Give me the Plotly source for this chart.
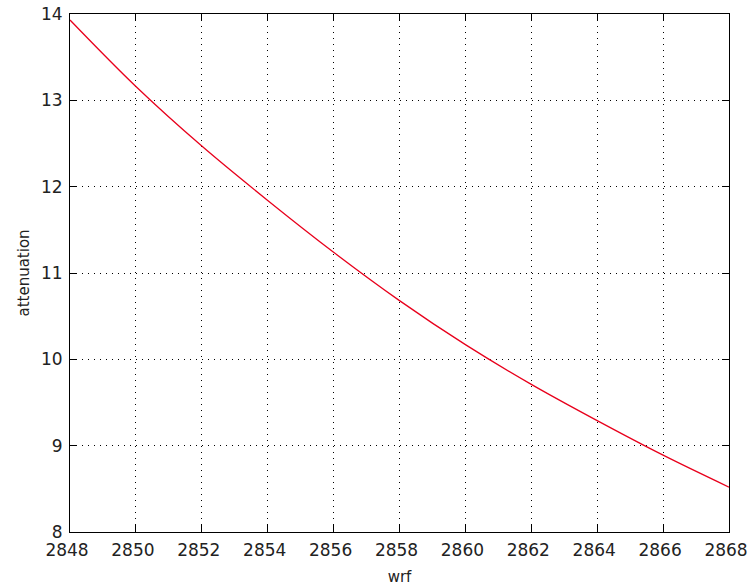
import plotly.graph_objects as go

wrf = [2848, 2850, 2852, 2854, 2856, 2858, 2860, 2862, 2864, 2866, 2868]
attenuation = [13.93, 13.16, 12.47, 11.84, 11.24, 10.68, 10.17, 9.71, 9.29, 8.89, 8.52]
x_ticks = [2848, 2850, 2852, 2854, 2856, 2858, 2860, 2862, 2864, 2866, 2868]
y_ticks = [8, 9, 10, 11, 12, 13, 14]

FONT = "DejaVu Sans, Verdana, sans-serif"

fig = go.Figure()
fig.add_trace(go.Scatter(x=wrf, y=attenuation, mode="lines",
                         line=dict(color="#e8001c", width=1.3, shape="spline"),
                         showlegend=False))

axis_common = dict(
    showline=True, linecolor="black", linewidth=1, mirror="ticks",
    ticks="inside", ticklen=7, tickcolor="black", tickwidth=1,
    showgrid=True, gridcolor="black", gridwidth=1, griddash="1px,5px",
    zeroline=False, automargin=False, ticklabeloverflow="allow",
    tickfont=dict(family=FONT, size=17, color="#222"),
)

fig.update_xaxes(range=[2848, 2868], tickvals=x_ticks,
                 ticktext=[str(v) for v in x_ticks],
                 ticklabelstandoff=3, ticklabelshift=-3,
                 title=dict(text="wrf", standoff=12,
                            font=dict(family=FONT, size=15, color="#222")),
                 **axis_common)
fig.update_yaxes(range=[8, 14], tickvals=y_ticks,
                 ticktext=[str(v) for v in y_ticks], ticklabelstandoff=3,
                 title=dict(text="attenuation", standoff=7,
                            font=dict(family=FONT, size=15, color="#222")),
                 **axis_common)

fig.update_layout(
    width=747, height=586,
    margin=dict(l=70, r=18, t=14, b=54),
    paper_bgcolor="white", plot_bgcolor="white",
)

fig.write_html("out.html", config={"displayModeBar": False},
               post_script="document.body.style.margin='0';")
